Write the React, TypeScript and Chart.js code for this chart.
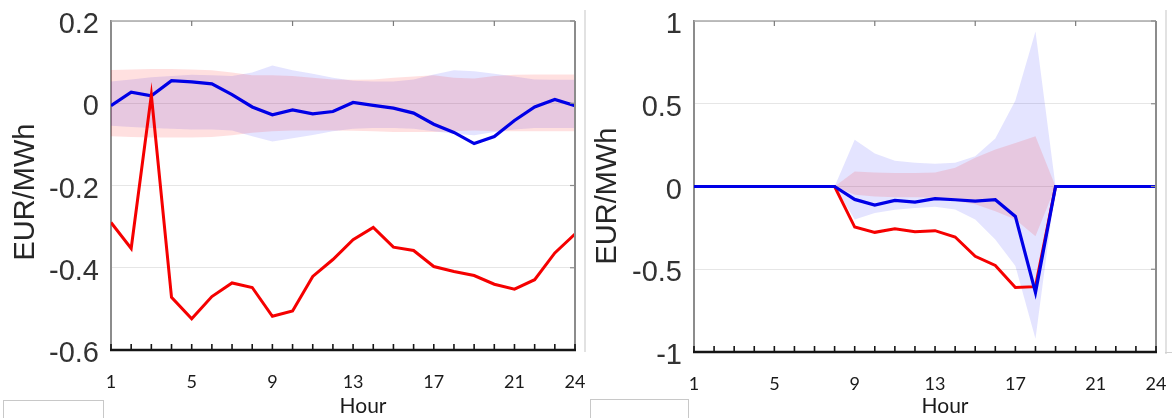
import React, { useEffect, useRef } from 'react';
import { Chart, registerables } from 'chart.js';

Chart.register(...registerables);

// ---------- data ----------
const hours = [1, 2, 3, 4, 5, 6, 7, 8, 9, 10, 11, 12, 13, 14, 15, 16, 17, 18, 19, 20, 21, 22, 23, 24];
const xTickLabels = [1, 5, 9, 13, 17, 21, 24];
const topTickHours = [5, 10, 15, 20];

// Left panel
const leftRed = [-0.29, -0.353, 0.02, -0.472, -0.524, -0.47, -0.437, -0.448, -0.518, -0.505, -0.421, -0.38, -0.332, -0.302, -0.35, -0.358, -0.397, -0.409, -0.419, -0.44, -0.452, -0.429, -0.364, -0.318];
const leftBlue = [-0.006, 0.027, 0.018, 0.055, 0.052, 0.047, 0.021, -0.009, -0.028, -0.016, -0.026, -0.02, 0.002, -0.005, -0.012, -0.024, -0.051, -0.071, -0.098, -0.081, -0.042, -0.009, 0.009, -0.006];
const leftRedUpper = [0.081, 0.082, 0.083, 0.083, 0.082, 0.08, 0.075, 0.068, 0.068, 0.066, 0.062, 0.058, 0.057, 0.058, 0.062, 0.065, 0.068, 0.062, 0.06, 0.066, 0.069, 0.07, 0.07, 0.07];
const leftRedLower = [-0.08, -0.082, -0.083, -0.083, -0.083, -0.082, -0.078, -0.072, -0.068, -0.066, -0.066, -0.066, -0.067, -0.068, -0.07, -0.07, -0.07, -0.068, -0.066, -0.068, -0.068, -0.068, -0.068, -0.068];
const leftBlueUpper = [0.053, 0.058, 0.063, 0.066, 0.069, 0.068, 0.066, 0.075, 0.092, 0.08, 0.072, 0.062, 0.055, 0.053, 0.053, 0.058, 0.07, 0.08, 0.078, 0.072, 0.065, 0.058, 0.057, 0.057];
const leftBlueLower = [-0.055, -0.058, -0.06, -0.062, -0.064, -0.064, -0.066, -0.08, -0.093, -0.085, -0.077, -0.068, -0.062, -0.06, -0.06, -0.062, -0.068, -0.074, -0.078, -0.07, -0.064, -0.06, -0.06, -0.06];
const leftYMin = -0.6;
const leftYMax = 0.2;
const leftYStep = 0.2;

// Right panel
const rightRed = [0, 0, 0, 0, 0, 0, 0, 0, -0.245, -0.277, -0.255, -0.274, -0.267, -0.305, -0.422, -0.477, -0.61, -0.605, 0, 0, 0, 0, 0, 0];
const rightBlue = [0, 0, 0, 0, 0, 0, 0, 0, -0.078, -0.112, -0.084, -0.094, -0.073, -0.08, -0.088, -0.08, -0.181, -0.64, 0, 0, 0, 0, 0, 0];
const rightRedUpper = [0, 0, 0, 0, 0, 0, 0, 0, 0.09, 0.085, 0.082, 0.082, 0.085, 0.113, 0.173, 0.223, 0.263, 0.303, 0, 0, 0, 0, 0, 0];
const rightRedLower = [0, 0, 0, 0, 0, 0, 0, 0, -0.05, -0.06, -0.065, -0.065, -0.068, -0.088, -0.108, -0.149, -0.2, -0.3, 0, 0, 0, 0, 0, 0];
const rightBlueUpper = [0, 0, 0, 0, 0, 0, 0, 0, 0.283, 0.2, 0.155, 0.143, 0.138, 0.143, 0.183, 0.29, 0.52, 0.936, 0, 0, 0, 0, 0, 0];
const rightBlueLower = [0, 0, 0, 0, 0, 0, 0, 0, -0.2, -0.16, -0.14, -0.13, -0.122, -0.139, -0.2, -0.32, -0.48, -0.92, 0, 0, 0, 0, 0, 0];
const rightYMin = -1;
const rightYMax = 1;
const rightYStep = 0.5;

const xTitle = 'Hour';
const yTitle = 'EUR/MWh';

// ---------- styles ----------
const RED = 'rgb(245,0,0)';
const BLUE = 'rgb(0,0,230)';
const RED_BAND = 'rgba(255,0,0,0.12)';
const BLUE_BAND = 'rgba(30,30,255,0.12)';

type PanelCfg = {
  width: number;
  yAxisWidth: number;
  xAxisHeight: number;
  padRight: number;
  padTop: number;
  red: number[];
  blue: number[];
  redUpper: number[];
  redLower: number[];
  blueUpper: number[];
  blueLower: number[];
  yMin: number;
  yMax: number;
  yStep: number;
  redOnTop: boolean;
  yTitleBaselineX: number;
  yTitleCenterY: number;
};

const toPts = (vals: number[]) => hours.map((h, i) => ({ x: h, y: vals[i] }));

function makeFramePlugin(cfg: PanelCfg) {
  return {
    id: 'frame',
    afterDraw(chart: any) {
      const { ctx, chartArea: a, scales } = chart;
      const xs = scales.x;
      const ys = scales.y;
      const line = (x1: number, y1: number, x2: number, y2: number) => {
        ctx.beginPath();
        ctx.moveTo(x1, y1);
        ctx.lineTo(x2, y2);
        ctx.stroke();
      };
      ctx.save();
      // top border
      ctx.strokeStyle = '#a8a8a8';
      ctx.lineWidth = 1.5;
      line(a.left, a.top, a.right, a.top);
      // top ticks
      ctx.strokeStyle = '#7a7a7a';
      ctx.lineWidth = 1.2;
      topTickHours.forEach((h) => {
        const px = xs.getPixelForValue(h);
        line(px, a.top, px, a.top + 5);
      });
      // right border
      ctx.strokeStyle = '#8c8c8c';
      ctx.lineWidth = 2;
      line(a.right, a.top, a.right, a.bottom);
      ctx.lineWidth = 1.2;
      ys.ticks.forEach((t: any) => {
        const py = ys.getPixelForValue(t.value);
        line(a.right - 5, py, a.right, py);
      });
      // bottom axis
      ctx.strokeStyle = '#151515';
      ctx.lineWidth = 2.5;
      line(a.left - 1, a.bottom, a.right + 1, a.bottom);
      ctx.lineWidth = 1.6;
      hours.forEach((h) => {
        const px = xs.getPixelForValue(h);
        line(px, a.bottom, px, a.bottom - 6);
      });
      // x title
      ctx.fillStyle = '#1a1a1a';
      ctx.font = '21px Lato';
      ctx.textAlign = 'center';
      ctx.textBaseline = 'alphabetic';
      ctx.fillText(xTitle, (a.left + a.right) / 2 + 20, 413);
      // y title
      ctx.translate(cfg.yTitleBaselineX, cfg.yTitleCenterY);
      ctx.rotate(-Math.PI / 2);
      ctx.font = '29px "Liberation Sans", Arial, sans-serif';
      ctx.fillStyle = '#262626';
      ctx.textAlign = 'center';
      ctx.textBaseline = 'alphabetic';
      ctx.fillText(yTitle, 0, 0);
      ctx.restore();
    },
  };
}

function Panel({ cfg, left }: { cfg: PanelCfg; left: number }) {
  const ref = useRef<HTMLCanvasElement | null>(null);
  useEffect(() => {
    if (!ref.current) return;
    const redLine = {
      label: 'red',
      data: toPts(cfg.red),
      borderColor: RED,
      borderWidth: 3,
      pointRadius: 0,
      fill: false,
      tension: 0,
    };
    const blueLine = {
      label: 'blue',
      data: toPts(cfg.blue),
      borderColor: BLUE,
      borderWidth: 3.2,
      pointRadius: 0,
      fill: false,
      tension: 0,
    };
    const lines = cfg.redOnTop ? [redLine, blueLine] : [blueLine, redLine];
    const chart = new Chart(ref.current, {
      type: 'line',
      data: {
        datasets: [
          ...lines,
          {
            label: 'redUpper',
            data: toPts(cfg.redUpper),
            borderWidth: 0,
            borderColor: 'rgba(0,0,0,0)',
            backgroundColor: RED_BAND,
            pointRadius: 0,
            fill: '+1',
            tension: 0,
          },
          {
            label: 'redLower',
            data: toPts(cfg.redLower),
            borderWidth: 0,
            borderColor: 'rgba(0,0,0,0)',
            pointRadius: 0,
            fill: false,
            tension: 0,
          },
          {
            label: 'blueUpper',
            data: toPts(cfg.blueUpper),
            borderWidth: 0,
            borderColor: 'rgba(0,0,0,0)',
            backgroundColor: BLUE_BAND,
            pointRadius: 0,
            fill: '+1',
            tension: 0,
          },
          {
            label: 'blueLower',
            data: toPts(cfg.blueLower),
            borderWidth: 0,
            borderColor: 'rgba(0,0,0,0)',
            pointRadius: 0,
            fill: false,
            tension: 0,
          },
        ],
      } as any,
      options: {
        animation: false,
        responsive: false,
        maintainAspectRatio: false,
        layout: { padding: { left: 0, right: cfg.padRight, top: cfg.padTop, bottom: 0 } },
        plugins: {
          legend: { display: false },
          tooltip: { enabled: false },
          title: { display: false },
        },
        scales: {
          x: {
            type: 'linear',
            min: 1,
            max: 24,
            grid: { display: false },
            border: { display: false },
            ticks: {
              stepSize: 1,
              autoSkip: false,
              maxRotation: 0,
              minRotation: 0,
              padding: 13,
              color: '#1a1a1a',
              font: { family: 'Lato', size: 18 },
              callback: (v: any) => (xTickLabels.includes(Number(v)) ? String(v) : ''),
            },
            afterFit: (s: any) => {
              s.height = cfg.xAxisHeight;
              s.paddingLeft = 0;
              s.paddingRight = 0;
            },
          },
          y: {
            type: 'linear',
            min: cfg.yMin,
            max: cfg.yMax,
            grid: { color: '#e6e6e6', lineWidth: 1, drawTicks: false },
            border: { display: true, color: '#8c8c8c', width: 2 },
            ticks: {
              stepSize: cfg.yStep,
              padding: 12,
              labelOffset: 4,
              color: '#333333',
              font: { family: '"Liberation Sans", Arial, sans-serif', size: 29 },
              callback: (v: any) => String(Math.round(Number(v) * 10) / 10),
            },
            afterFit: (s: any) => {
              s.width = cfg.yAxisWidth;
              s.paddingTop = 0;
              s.paddingBottom = 0;
            },
          },
        },
      } as any,
      plugins: [makeFramePlugin(cfg)],
    });
    return () => chart.destroy();
  }, []);
  return (
    <canvas
      ref={ref}
      width={cfg.width}
      height={418}
      style={{ position: 'absolute', left, top: 0, width: cfg.width, height: 418 }}
    />
  );
}

const leftCfg: PanelCfg = {
  width: 588,
  yAxisWidth: 111,
  xAxisHeight: 68,
  padRight: 13,
  padTop: 21,
  red: leftRed,
  blue: leftBlue,
  redUpper: leftRedUpper,
  redLower: leftRedLower,
  blueUpper: leftBlueUpper,
  blueLower: leftBlueLower,
  yMin: leftYMin,
  yMax: leftYMax,
  yStep: leftYStep,
  redOnTop: true,
  yTitleBaselineX: 34,
  yTitleCenterY: 192,
};

const rightCfg: PanelCfg = {
  width: 582,
  yAxisWidth: 104,
  xAxisHeight: 66,
  padRight: 16,
  padTop: 21,
  red: rightRed,
  blue: rightBlue,
  redUpper: rightRedUpper,
  redLower: rightRedLower,
  blueUpper: rightBlueUpper,
  blueLower: rightBlueLower,
  yMin: rightYMin,
  yMax: rightYMax,
  yStep: rightYStep,
  redOnTop: false,
  yTitleBaselineX: 26,
  yTitleCenterY: 196,
};

export default function App() {
  return (
    <div style={{ position: 'absolute', left: 0, top: 0, width: 1172, height: 418, overflow: 'hidden', background: '#fff' }}>
      <Panel cfg={leftCfg} left={0} />
      <Panel cfg={rightCfg} left={590} />
      <div style={{ position: 'absolute', left: 584, top: 10, width: 2, height: 342, background: '#e2e2e2' }} />
      <div style={{ position: 'absolute', left: 1165, top: 10, width: 2, height: 344, background: '#e2e2e2' }} />
      <div style={{ position: 'absolute', left: 1165, top: 352, width: 7, height: 1, background: '#d0d0d0' }} />
      <div style={{ position: 'absolute', left: 3, top: 400, width: 101, height: 30, border: '1px solid #c8c8c8', boxSizing: 'border-box' }} />
      <div style={{ position: 'absolute', left: 590, top: 399, width: 99, height: 30, border: '1px solid #c8c8c8', boxSizing: 'border-box' }} />
    </div>
  );
}
